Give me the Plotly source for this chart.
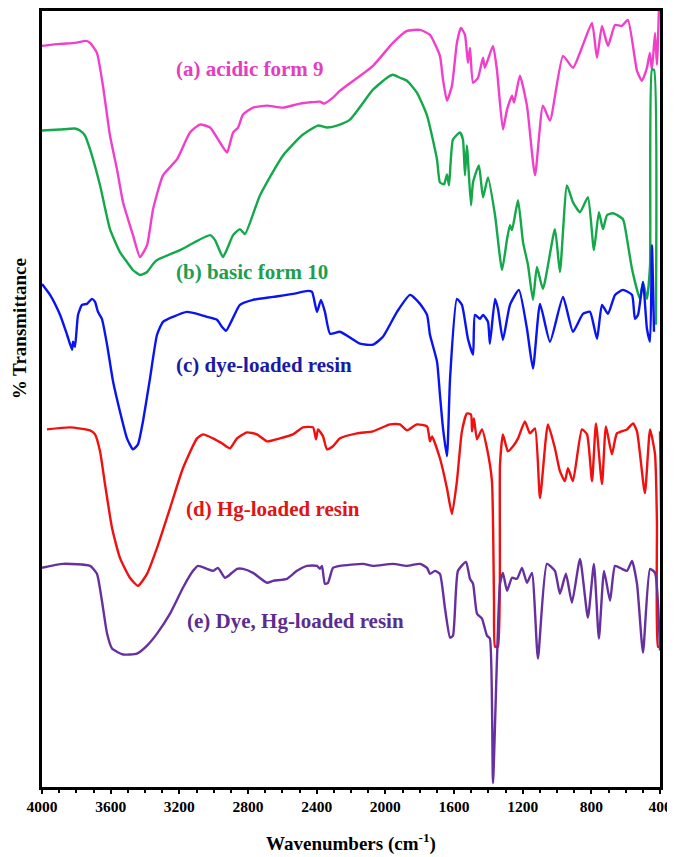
import plotly.graph_objects as go

# FTIR spectra, wavenumber (cm-1) / transmittance (arbitrary, stacked offsets)

wn_a = [4000, 3895, 3808, 3744, 3720, 3680, 3645, 3604, 3563, 3528, 3470, 3429, 3388, 3353, 3295,
        3214, 3138, 3080, 3021, 2963, 2922, 2887, 2858, 2829, 2771, 2689, 2596, 2497, 2381, 2357,
        2305, 2264, 2072, 1956, 1874, 1798, 1740, 1682, 1664, 1641, 1612, 1583, 1560, 1536, 1519,
        1507, 1489, 1460, 1431, 1420, 1373, 1350, 1315, 1291, 1262, 1250, 1216, 1175, 1128, 1082,
        1041, 965, 907, 849, 796, 767, 738, 703, 662, 622, 587, 534, 505, 476, 459, 447, 429, 418, 406]
t_a = [744, 746, 747, 749, 747, 737, 704, 654, 620, 587, 554, 532, 544, 580, 614,
       630, 657, 665, 662, 647, 637, 657, 662, 675, 682, 684, 682, 686, 688, 686,
       692, 699, 724, 747, 759, 760, 755, 734, 710, 689, 704, 747, 762, 755, 727,
       742, 707, 712, 732, 722, 744, 720, 660, 680, 694, 687, 714, 684, 614, 684,
       669, 734, 722, 745, 767, 732, 764, 744, 765, 764, 770, 719, 709, 722, 737, 720, 757, 725, 782]

wn_b = [4000, 3895, 3808, 3779, 3750, 3720, 3662, 3604, 3546, 3505, 3470, 3429, 3388, 3353, 3330,
        3196, 3021, 2992, 2946, 2917, 2887, 2847, 2818, 2730, 2596, 2480, 2392, 2340, 2282, 2206,
        2072, 1990, 1956, 1915, 1874, 1816, 1757, 1699, 1682, 1658, 1641, 1629, 1606, 1565, 1548,
        1536, 1525, 1501, 1489, 1455, 1431, 1402, 1361, 1320, 1291, 1274, 1262, 1227, 1198, 1169,
        1140, 1117, 1082, 1012, 983, 942, 907, 866, 820, 785, 756, 732, 709, 674, 616, 592, 563,
        517, 499, 476, 458, 447, 435, 424]
t_b = [659, 660, 661, 659, 654, 640, 604, 560, 537, 527, 519, 514, 517, 525, 529,
       539, 554, 549, 532, 542, 554, 560, 555, 594, 634, 655, 664, 662, 664, 670,
       700, 712, 715, 712, 709, 697, 674, 630, 607, 605, 615, 604, 650, 657, 650,
       614, 644, 584, 607, 624, 592, 612, 574, 519, 550, 564, 559, 589, 547, 524,
       489, 522, 500, 560, 517, 604, 587, 577, 592, 539, 577, 560, 574, 576, 570, 550, 520,
       490, 507, 490, 524, 720, 720, 464]

wn_c = [4000, 3953, 3895, 3854, 3825, 3819, 3808, 3790, 3767, 3738, 3709, 3691, 3674, 3651, 3621,
        3586, 3546, 3505, 3470, 3441, 3412, 3371, 3330, 3295, 3237, 3155, 3097, 3039, 2981, 2952,
        2928, 2893, 2847, 2771, 2654, 2538, 2451, 2427, 2398, 2375, 2352, 2322, 2264, 2148, 2072,
        2014, 1932, 1856, 1798, 1757, 1740, 1699, 1682, 1664, 1641, 1623, 1583, 1554, 1519, 1489,
        1478, 1449, 1431, 1402, 1391, 1361, 1344, 1315, 1274, 1222, 1175, 1140, 1099, 1041, 965,
        907, 849, 808, 767, 738, 703, 662, 616, 563, 546, 528, 499, 476, 458, 447, 435]
t_c = [505, 494, 474, 454, 439, 447, 442, 474, 484, 485, 490, 487, 477, 470, 444,
       407, 377, 350, 339, 344, 367, 410, 454, 467, 472, 477, 475, 472, 469, 462,
       458, 469, 484, 489, 492, 495, 498, 497, 477, 489, 477, 455, 457, 445, 444,
       452, 477, 494, 485, 474, 454, 427, 394, 360, 332, 410, 490, 484, 450, 434,
       474, 470, 474, 467, 445, 490, 480, 449, 484, 499, 460, 420, 485, 447, 492,
       457, 475, 477, 450, 484, 475, 494, 499, 494, 470, 474, 507, 460, 447, 544, 457]

wn_d = [3971, 3837, 3720, 3691, 3662, 3633, 3592, 3546, 3488, 3441, 3388, 3330, 3254, 3179, 3097,
        3062, 3004, 2952, 2905, 2864, 2806, 2748, 2689, 2614, 2538, 2480, 2421, 2404, 2392, 2363,
        2340, 2305, 2264, 2165, 2072, 1973, 1915, 1874, 1816, 1757, 1740, 1728, 1682, 1641, 1612,
        1583, 1554, 1525, 1501, 1495, 1484, 1466, 1437, 1408, 1379, 1367, 1361, 1344, 1332, 1315,
        1286, 1256, 1227, 1187, 1158, 1128, 1099, 1053, 1012, 983, 954, 936, 907, 855, 825,
        796, 773, 738, 715, 680, 651, 592, 557, 534, 488, 458, 429, 418, 412, 400, 400]
t_d = [359, 361, 358, 354, 337, 304, 260, 230, 210, 202, 214, 240, 280, 320, 350,
       354, 350, 345, 340, 350, 356, 354, 347, 350, 354, 361, 361, 349, 359, 352,
       339, 342, 350, 355, 357, 364, 364, 358, 364, 362, 347, 352, 330, 300, 274,
       307, 357, 375, 374, 357, 370, 349, 359, 340, 307, 187, 141, 141, 324, 354,
       337, 342, 350, 367, 355, 360, 290, 364, 340, 317, 307, 320, 307, 359, 354,
       307, 365, 304, 362, 334, 355, 359, 365, 357, 295, 359, 334, 267, 141, 141, 357]

wn_e = [4000, 3878, 3720, 3680, 3651, 3621, 3592, 3528, 3447, 3388, 3330, 3254, 3179, 3120, 3091,
        3039, 3004, 2975, 2934, 2893, 2864, 2829, 2771, 2689, 2654, 2573, 2515, 2456, 2398, 2381,
        2369, 2352, 2334, 2305, 2264, 2130, 2072, 1956, 1874, 1798, 1757, 1740, 1711, 1682, 1653,
        1623, 1606, 1577, 1530, 1507, 1489, 1466, 1437, 1408, 1391, 1373, 1350, 1332, 1315, 1291,
        1262, 1233, 1204, 1175, 1146, 1111, 1059, 1012, 983, 948, 913, 866, 820, 785, 756,
        726, 691, 662, 622, 592, 563, 534, 499, 458, 429, 400]
t_e = [220, 224, 222, 214, 187, 154, 139, 133, 134, 142, 154, 174, 200, 217, 222,
       219, 217, 220, 210, 215, 219, 219, 215, 205, 207, 209, 217, 222, 222, 219,
       222, 204, 205, 220, 222, 224, 222, 224, 222, 224, 220, 214, 217, 214, 180,
       150, 152, 217, 226, 209, 204, 174, 169, 152, 149, 4, 127, 204, 215, 197,
       210, 209, 220, 205, 215, 129, 224, 217, 194, 214, 185, 229, 170, 224, 149,
       217, 187, 222, 219, 217, 227, 204, 135, 219, 215, 137]

labels = ["(a) acidic form 9", "(b) basic form 10", "(c) dye-loaded resin",
          "(d) Hg-loaded resin", "(e) Dye, Hg-loaded resin"]
x_ticks = [4000, 3600, 3200, 2800, 2400, 2000, 1600, 1200, 800, 400]

series = [
    (wn_a, t_a, "#F23FC9", "#E43DBE", 2788, 721),
    (wn_b, t_b, "#14A84A", "#1E9E4E", 2777, 517),
    (wn_c, t_c, "#0A14F0", "#1A1AA6", 2707, 424),
    (wn_d, t_d, "#F01010", "#E01515", 2654, 279),
    (wn_e, t_e, "#6630A0", "#5A2D8E", 2526, 167),
]

fig = go.Figure()
for (x, y, col, tcol, lx, ly), lab in zip(series, labels):
    fig.add_trace(go.Scatter(x=x, y=y, mode="lines",
                             line=dict(color=col, width=2.4, shape="spline", smoothing=0.5),
                             showlegend=False, hoverinfo="skip"))
    fig.add_annotation(x=lx, y=ly, text=lab, showarrow=False,
                       font=dict(family="Liberation Serif", size=21, color=tcol, weight="bold"))

# axis titles
fig.add_annotation(xref="paper", yref="paper", x=0.5, y=-0.0719, yanchor="middle",
                   text="Wavenumbers (cm<sup>-1</sup>)", showarrow=False,
                   font=dict(family="Liberation Serif", size=19, color="black", weight="bold"))
fig.add_annotation(xref="paper", yref="paper", x=-0.037, y=0.59, textangle=-90,
                   xanchor="center", yanchor="middle",
                   text="% Transmittance", showarrow=False,
                   font=dict(family="Liberation Serif", size=19, color="black", weight="bold"))

# page body adds an 8px offset, so the figure is a bit smaller than the window
fig.update_layout(
    width=667, height=849,
    margin=dict(l=34, r=15, t=0, b=70),
    plot_bgcolor="white", paper_bgcolor="white",
    xaxis=dict(range=[4000, 400], tickvals=x_ticks, showgrid=False, zeroline=False,
               showline=True, linecolor="black", linewidth=2.5, mirror=True,
               ticks="outside", ticklen=4, tickwidth=2, tickcolor="black",
               minor=dict(dtick=100, ticks="outside", ticklen=3, tickwidth=1.5, tickcolor="black"),
               tickfont=dict(family="Liberation Serif", size=15.5, color="black", weight="bold")),
    yaxis=dict(range=[0, 779], showgrid=False, zeroline=False, showticklabels=False,
               showline=True, linecolor="black", linewidth=2.5, mirror=True, ticks=""),
)

fig.write_html("out.html")
